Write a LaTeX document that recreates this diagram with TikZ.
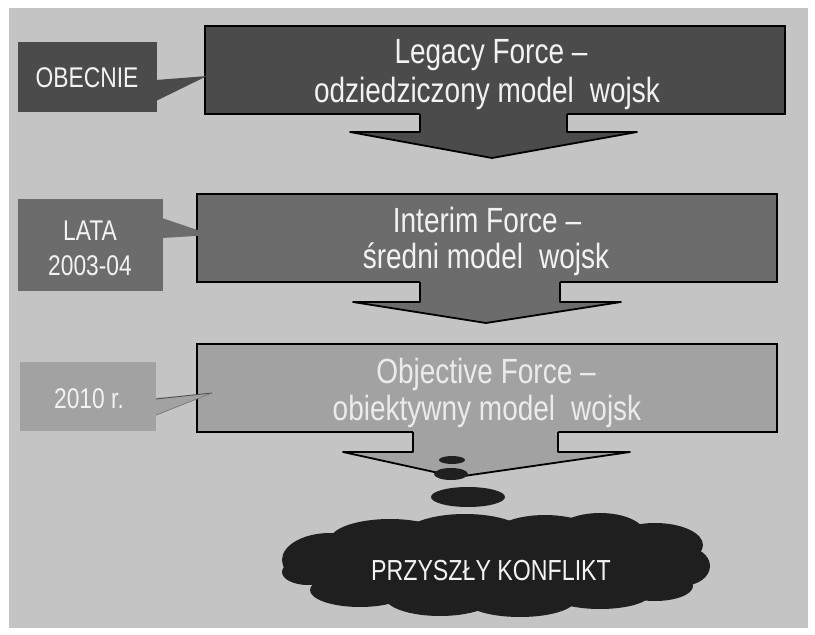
\documentclass[tikz,border=0pt]{standalone}
\usepackage{fontspec}
\newfontfamily\cond[FakeStretch=0.8]{Liberation Sans}
\definecolor{bgc}{HTML}{C4C4C4}
\definecolor{cone}{HTML}{4B4B4B}
\definecolor{ctwo}{HTML}{6C6C6C}
\definecolor{cthree}{HTML}{A2A2A2}
\definecolor{txtc}{HTML}{F2F2F2}
\definecolor{cloudc}{HTML}{1F1F1F}
\tikzset{
  mainbox/.style={draw=black, line width=2.5pt, inner sep=0pt, minimum width=580pt, minimum height=88pt},
  labbox/.style={draw=none, inner sep=0pt},
  bigtxt/.style={anchor=base, text=txtc, inner sep=0pt, font=\cond\fontsize{35}{39}\selectfont},
  labtxt/.style={anchor=base, text=txtc, inner sep=0pt, font=\cond\fontsize{28.5}{32}\selectfont},
  arrowline/.style={draw=black, line width=1.8pt, line join=round},
  blob/.style={fill=cloudc, draw=none}
}
\newcommand{\gapw}{\hspace{16pt}}
\begin{document}
\begin{tikzpicture}[x=1pt,y=-1pt]
\useasboundingbox (0,0) rectangle (815,635);
\fill[white] (0,0) rectangle (815,635);
\fill[bgc] (9,8) rectangle (808,628);

% main boxes
\node[mainbox, fill=cone] (b1) at (495,70) {};
\node[mainbox, fill=ctwo] (b2) at (487,238) {};
\node[mainbox, fill=cthree] (b3) at (487,388) {};

% label boxes
\node[labbox, fill=cone, minimum width=139pt, minimum height=70pt] (l1) at (87.5,77) {};
\node[labbox, fill=ctwo, minimum width=145pt, minimum height=92pt] (l2) at (90.5,245) {};
\node[labbox, fill=cthree, minimum width=136pt, minimum height=69pt] (l3) at (88,396) {};

% callout tails
\fill[cone] (156,80) -- (207,76) -- (156,101) -- cycle;
\fill[ctwo] (162,218) -- (212,235) -- (162,238) -- cycle;
\fill[cthree] (155,398) -- (212,393) -- (155,416) -- cycle;
\draw[black!70, line width=0.8pt] (156,399) -- (212,393);
\draw[black!55, line width=0.6pt] (156,415) -- (212,393);

% block arrows
\fill[cone] (420,108) -- (420,132) -- (350,132) -- (492,158) -- (637,132) -- (567,132) -- (567,108) -- cycle;
\draw[arrowline] (420,114) -- (420,132) -- (350,132) -- (492,158) -- (637,132) -- (567,132) -- (567,114);
\fill[ctwo] (420,276) -- (420,302) -- (353,302) -- (486,323) -- (621,302) -- (560,302) -- (560,276) -- cycle;
\draw[arrowline] (420,282) -- (420,302) -- (353,302) -- (486,323) -- (621,302) -- (560,302) -- (560,282);
\fill[cthree] (413,426) -- (413,452) -- (343,452) -- (457,477) -- (630,452) -- (558,452) -- (558,426) -- cycle;
\draw[arrowline] (413,432) -- (413,452) -- (343,452) -- (457,477) -- (630,452) -- (558,452) -- (558,432);

% dream bubbles
\fill[blob] (452,460) ellipse [x radius=13, y radius=4];
\fill[blob] (451,474) ellipse [x radius=17, y radius=6];
\fill[blob] (468,497) ellipse [x radius=37, y radius=10];

% cloud (union of puffs)
\coordinate (cl) at (496,565);
\begin{scope}[blob]
\fill (496,565) ellipse [x radius=190, y radius=40];
\fill (330,560) ellipse [x radius=48, y radius=27];
\fill (308,572) ellipse [x radius=26, y radius=13];
\fill (390,540) ellipse [x radius=60, y radius=21];
\fill (465,536) ellipse [x radius=62, y radius=22];
\fill (545,538) ellipse [x radius=55, y radius=23];
\fill (600,534) ellipse [x radius=45, y radius=21];
\fill (655,545) ellipse [x radius=48, y radius=22];
\fill (682,566) ellipse [x radius=28, y radius=20];
\fill (360,590) ellipse [x radius=50, y radius=17];
\fill (440,597) ellipse [x radius=55, y radius=19];
\fill (520,600) ellipse [x radius=55, y radius=17];
\fill (600,594) ellipse [x radius=50, y radius=15];
\fill (655,586) ellipse [x radius=38, y radius=15];
\end{scope}
\node[labtxt, font=\cond\fontsize{29}{32}\selectfont] (clt) at (491,580) {PRZYSZŁY KONFLIKT};

% main box texts
\node[bigtxt] (t1a) at (491,63) {Legacy Force –};
\node[bigtxt] (t1b) at (487,102) {odziedziczony model\gapw wojsk};
\node[bigtxt] (t2a) at (487,232) {Interim Force –};
\node[bigtxt] (t2b) at (486,268) {średni model\gapw wojsk};
\node[bigtxt, text=white!92!black] (t3a) at (486,383) {Objective Force –};
\node[bigtxt, text=white!92!black] (t3b) at (487,420) {obiektywny model\gapw wojsk};

% label texts
\node[labtxt] (lt1) at (87,87) {OBECNIE};
\node[labtxt] (lt2a) at (90,240) {LATA};
\node[labtxt] (lt2b) at (90,275) {2003-04};
\node[labtxt] (lt3) at (89,408) {2010 r.};
\end{tikzpicture}
\end{document}
